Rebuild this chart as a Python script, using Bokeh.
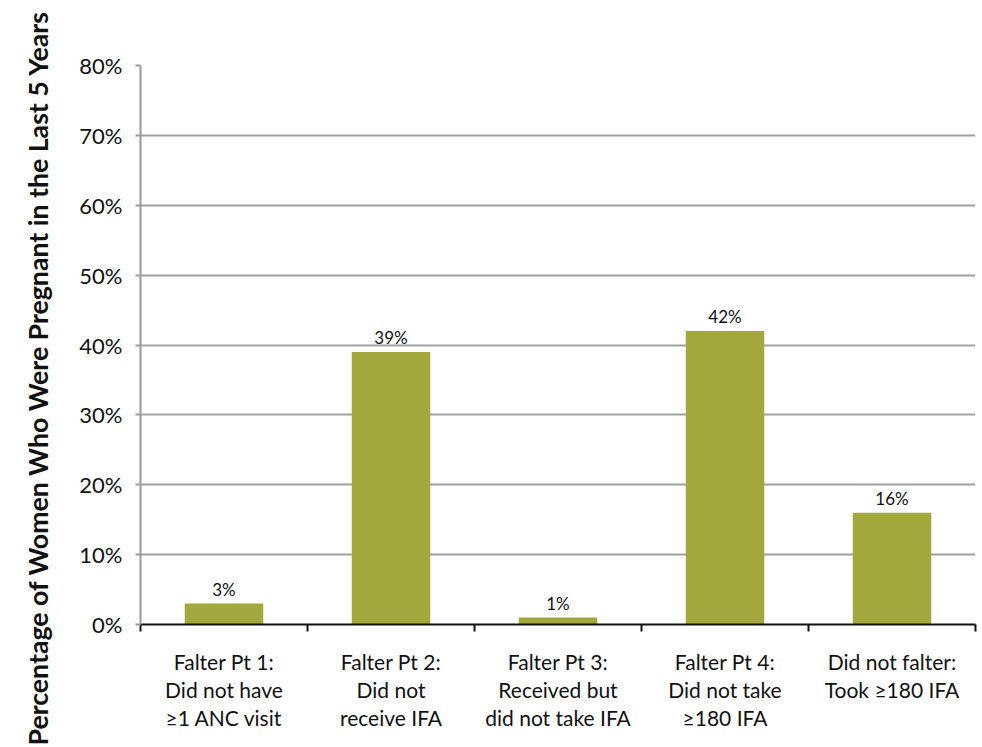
import numpy as np
from bokeh.plotting import figure
from bokeh.models import Range1d, FixedTicker, ColumnDataSource, Title
from bokeh.core.properties import value
from bokeh.embed import file_html
from bokeh.resources import INLINE

# ---- data ----
categories = [
    "Falter Pt 1:\nDid not have\n\u22651 ANC visit",
    "Falter Pt 2:\nDid not\nreceive IFA",
    "Falter Pt 3:\nReceived but\ndid not take IFA",
    "Falter Pt 4:\nDid not take\n\u2265180 IFA",
    "Did not falter:\nTook \u2265180 IFA",
]
percentages = [3, 39, 1, 42, 16]
bar_labels = ["3%", "39%", "1%", "42%", "16%"]
y_ticks = [0, 10, 20, 30, 40, 50, 60, 70, 80]
y_tick_labels = ["0%", "10%", "20%", "30%", "40%", "50%", "60%", "70%", "80%"]
y_title = "Percentage of Women Who Were Pregnant in the Last 5 Years"

FONT = "Lato"
BAR_COLOR = "#A2A83B"

n = len(categories)
centers = np.arange(n) + 0.5

p = figure(
    width=982, height=747,
    output_backend="svg", toolbar_location=None,
    x_range=Range1d(0, n), y_range=Range1d(0, 80),
    min_border_left=140, min_border_right=7,
    min_border_top=65, min_border_bottom=123,
)
p.outline_line_color = None
p.background_fill_color = "white"
p.border_fill_color = "white"

src = ColumnDataSource(dict(x=centers, top=percentages, lab=bar_labels))
p.vbar(x="x", top="top", bottom=0, width=0.47, source=src,
       fill_color=BAR_COLOR, line_color=None)
p.text(x="x", y="top", text="lab", source=src, y_offset=-4,
       text_align="center", text_baseline="bottom",
       text_font=value(FONT), text_font_size="17px", text_color="#111111")

# grid
p.xgrid.grid_line_color = None
p.ygrid.grid_line_color = "#A0A0A0"
p.ygrid.grid_line_width = 1.8
p.ygrid.ticker = FixedTicker(ticks=y_ticks)

# y axis
ya = p.yaxis[0]
ya.ticker = FixedTicker(ticks=y_ticks)
ya.major_label_overrides = {t: l for t, l in zip(y_ticks, y_tick_labels)}
ya.axis_line_color = "#999999"
ya.axis_line_width = 2
ya.major_tick_line_color = "#999999"
ya.major_tick_line_width = 2
ya.major_tick_out = 5
ya.major_tick_in = 0
ya.minor_tick_line_color = None
ya.major_label_standoff = 13
ya.major_label_text_font = FONT
ya.major_label_text_font_size = "22px"
ya.major_label_text_color = "#111111"

# x axis
xa = p.xaxis[0]
xa.ticker = FixedTicker(ticks=list(centers), minor_ticks=list(range(n + 1)))
xa.major_label_overrides = {float(c): lab for c, lab in zip(centers, categories)}
xa.axis_line_color = "#111111"
xa.axis_line_width = 2
xa.major_tick_line_color = None
xa.minor_tick_line_color = "#111111"
xa.minor_tick_line_width = 2
xa.minor_tick_out = 7
xa.minor_tick_in = 0
xa.major_label_standoff = 17
xa.major_label_text_font = FONT
xa.major_label_text_font_size = "21px"
xa.major_label_text_line_height = 1.12
xa.major_label_text_color = "#111111"

# rotated y-axis title as a left-side Title
p.add_layout(Title(
    text=y_title, align="left", vertical_align="top", offset=-121, standoff=42,
    text_font=FONT, text_font_style="bold", text_font_size="26.7px",
    text_color="#111111",
), "left")

open("out.html", "w").write(file_html(p, INLINE))
